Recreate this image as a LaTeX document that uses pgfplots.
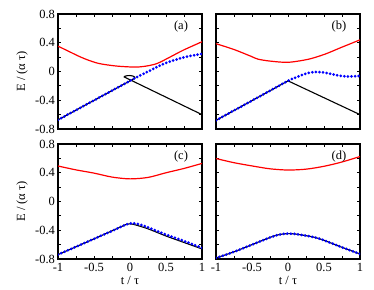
\documentclass[border=0pt]{standalone}
\usepackage{fontspec}
\setmainfont{Liberation Serif}
\usepackage{pgfplots}
\pgfplotsset{compat=1.18}
\pgfplotsset{
  panel/.style={
    scale only axis, width=144pt, height=115pt,
    xmin=-1, xmax=1, ymin=-0.8, ymax=0.8,
    xtick={-1,-0.5,0,0.5,1}, ytick={-0.8,-0.4,0,0.4,0.8},
    minor x tick num=1, minor y tick num=1,
    tick align=inside, xtick pos=both, ytick pos=both,
    major tick length=3.2pt, minor tick length=3.2pt,
    every tick/.style={black, line width=0.9pt},
    axis line style={line width=1.2pt},
    tick label style={font=\fontsize{12.5}{14}\selectfont},
    label style={font=\fontsize{12.5}{14}\selectfont},
    /pgf/number format/assume math mode=true,
    xticklabel style={yshift=-1pt},
    yticklabel style={xshift=0.5pt},
  },
  redc/.style={red, line width=1.2pt, smooth, no markers},
  bluec/.style={blue, line width=3pt, line cap=round, dash pattern=on 0pt off 3.6pt, smooth, no markers},
  blackc/.style={black, line width=1.1pt, no markers},
}
\begin{document}
\begin{tikzpicture}
\path[use as bounding box] (0,0) rectangle (374pt,289pt);
% (a)
\begin{axis}[panel, at={(58pt,160pt)}, xticklabels={},
  ylabel={E / (α τ)},
  ylabel style={at={(axis description cs:-0.25,0.5)}, anchor=center}]
\addplot[redc] coordinates {(-1,0.353) (-0.85,0.28) (-0.69,0.203) (-0.56,0.151) (-0.42,0.109) (-0.19,0.076) (0.05,0.062) (0.19,0.07) (0.37,0.109) (0.56,0.203) (0.74,0.297) (1,0.414)};
\addplot[blackc] coordinates {(-1,-0.673) (0,-0.13) (0.07,-0.092) (0.065,-0.078) (0.045,-0.064) (0.0,-0.056) (-0.04,-0.058) (-0.07,-0.066) (-0.08,-0.076) (1,-0.60)};
\addplot[bluec] coordinates {(-1,-0.673) (-0.5,-0.4015) (0,-0.13) (0.14,-0.056) (0.28,0.014) (0.42,0.085) (0.56,0.14) (0.74,0.194) (0.9,0.228) (1,0.245)};
\node[font=\fontsize{12.5}{14}\selectfont] at (rel axis cs:0.854,0.895) {(a)};
\end{axis}
% (b)
\begin{axis}[panel, at={(216pt,160pt)}, xticklabels={}, yticklabels={}]
\addplot[redc] coordinates {(-1,0.387) (-0.75,0.306) (-0.51,0.21) (-0.417,0.172) (-0.25,0.145) (0,0.128) (0.28,0.17) (0.51,0.24) (0.74,0.335) (1,0.44)};
\addplot[blackc] coordinates {(-1,-0.68) (0,-0.13) (1,-0.60)};
\addplot[bluec] coordinates {(-1,-0.68) (-0.5,-0.405) (0,-0.13) (0.07,-0.10) (0.14,-0.07) (0.22,-0.04) (0.3,-0.016) (0.39,-0.006) (0.48,-0.012) (0.58,-0.03) (0.68,-0.052) (0.78,-0.066) (0.88,-0.068) (1,-0.062)};
\node[font=\fontsize{12.5}{14}\selectfont] at (rel axis cs:0.854,0.895) {(b)};
\end{axis}
% (c)
\begin{axis}[panel, at={(58pt,30pt)},
  ylabel={E / (α τ)},
  ylabel style={at={(axis description cs:-0.25,0.5)}, anchor=center},
  xlabel={t / τ},
  xlabel style={at={(axis description cs:0.5,-0.19)}, anchor=center}]
\addplot[redc] coordinates {(-1,0.494) (-0.75,0.44) (-0.5,0.395) (-0.25,0.34) (0,0.315) (0.25,0.335) (0.5,0.40) (0.75,0.46) (1,0.53)};
\addplot[blackc, smooth] coordinates {(-1,-0.739) (-0.5,-0.52) (-0.2,-0.385) (-0.05,-0.318) (0,-0.31) (0.05,-0.318) (0.25,-0.38) (0.5,-0.48) (0.75,-0.57) (1,-0.66)};
\addplot[bluec] coordinates {(-1,-0.739) (-0.75,-0.63) (-0.5,-0.52) (-0.25,-0.41) (-0.1,-0.34) (0,-0.305) (0.1,-0.31) (0.25,-0.36) (0.5,-0.46) (0.75,-0.55) (1,-0.645)};
\node[font=\fontsize{12.5}{14}\selectfont] at (rel axis cs:0.854,0.895) {(c)};
\end{axis}
% (d)
\begin{axis}[panel, at={(216pt,30pt)}, yticklabels={},
  xlabel={t / τ},
  xlabel style={at={(axis description cs:0.5,-0.19)}, anchor=center}]
\addplot[redc] coordinates {(-1,0.598) (-0.75,0.54) (-0.5,0.495) (-0.25,0.455) (0,0.438) (0.25,0.45) (0.5,0.49) (0.75,0.55) (1,0.626)};
\addplot[blackc, smooth] coordinates {(-1,-0.786) (-0.75,-0.70) (-0.5,-0.60) (-0.25,-0.50) (-0.12,-0.46) (0,-0.447) (0.12,-0.455) (0.35,-0.494) (0.5,-0.54) (0.72,-0.626) (1,-0.73)};
\addplot[bluec] coordinates {(-1,-0.786) (-0.75,-0.70) (-0.5,-0.60) (-0.25,-0.50) (-0.12,-0.46) (0,-0.447) (0.12,-0.455) (0.35,-0.494) (0.5,-0.54) (0.72,-0.626) (1,-0.73)};
\node[font=\fontsize{12.5}{14}\selectfont] at (rel axis cs:0.854,0.895) {(d)};
\end{axis}
\end{tikzpicture}
\end{document}
